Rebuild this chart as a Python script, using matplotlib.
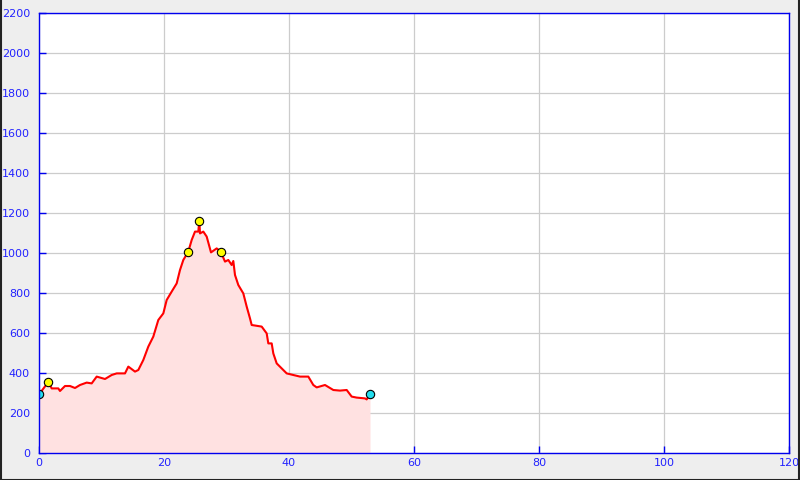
import numpy as np
import matplotlib
matplotlib.use('Agg')
import matplotlib.pyplot as plt
from matplotlib.lines import Line2D

# elevation profile (distance, altitude)
dist = [0.05, 1.49, 2.03, 3.09, 3.36, 4.16, 4.96, 5.76, 6.56, 7.63, 8.43, 9.23,
        10.56, 11.63, 12.43, 13.76, 14.29, 15.36, 15.89, 16.69, 17.49, 18.29,
        19.09, 19.89, 20.43, 21.23, 22.03, 22.56, 23.09, 23.89, 24.43, 24.96,
        25.49, 25.65, 25.76, 26.29, 26.83, 27.52, 28.43, 29.07, 29.76, 30.29,
        30.83, 31.09, 31.36, 31.89, 32.69, 33.23, 33.76, 34.03, 35.63, 36.43,
        36.69, 37.23, 37.49, 38.03, 38.83, 39.63, 40.69, 41.76, 43.09, 43.89,
        44.43, 45.76, 47.09, 48.16, 49.23, 50.03, 50.83, 52.16, 52.43, 52.96]
alt = [295, 355, 323, 323, 310, 335, 335, 325, 340, 352, 348, 382,
       370, 390, 398, 398, 432, 407, 415, 465, 532, 582,
       665, 698, 765, 807, 848, 915, 965, 1007, 1065, 1107,
       1107, 1162, 1098, 1107, 1082, 1003, 1023, 1007, 957, 965,
       940, 960, 890, 840, 798, 732, 673, 640, 632, 598,
       548, 548, 498, 448, 423, 398, 390, 382, 382, 340,
       328, 340, 315, 312, 315, 282, 277, 273, 268, 293]

# waypoint markers
end_x = [0.05, 52.96]
end_y = [295, 293]
peak_x = [1.49, 23.89, 25.65, 29.07]
peak_y = [355, 1007, 1162, 1007]

xticks = np.arange(0, 121, 20)
yticks = np.arange(0, 2201, 200)

blue = '#0000ee'
lbl = '#2222ff'

fig = plt.figure(figsize=(8, 4.8), dpi=100, facecolor='#eeeeee')
ax = fig.add_axes([39 / 800, 27 / 480, 750 / 800, 440 / 480])
ax.set_facecolor('white')

ax.fill_between(dist, alt, 0, color='#ffe1e1', linewidth=0)
ax.plot(dist, alt, color='red', linewidth=1.5)
ax.plot(end_x, end_y, 'o', ms=6, mfc='#22ddee', mec='black', mew=0.8)
ax.plot(peak_x, peak_y, 'o', ms=6, mfc='yellow', mec='black', mew=0.8)

ax.set_xlim(0, 120)
ax.set_ylim(0, 2200)
ax.set_xticks(xticks)
ax.set_yticks(yticks)
ax.grid(True, color='#cccccc', linewidth=0.9)
ax.set_axisbelow(True)

for s in ax.spines.values():
    s.set_color(blue)
    s.set_linewidth(1.0)

ax.tick_params(axis='both', direction='in', length=5, color=blue,
               labelcolor=lbl, labelsize=8, width=1.0)
ax.tick_params(axis='x', pad=3.5)
ax.tick_params(axis='y', pad=6.5)

# outer frame
for xs, ys in [([0.001, 0.001], [0, 1]), ([0.999, 0.999], [0, 1]),
               ([0, 1], [0.001, 0.001])]:
    fig.add_artist(Line2D(xs, ys, color='#222222', linewidth=1.5,
                          transform=fig.transFigure))

fig.savefig('out.png', dpi=100, facecolor=fig.get_facecolor())
